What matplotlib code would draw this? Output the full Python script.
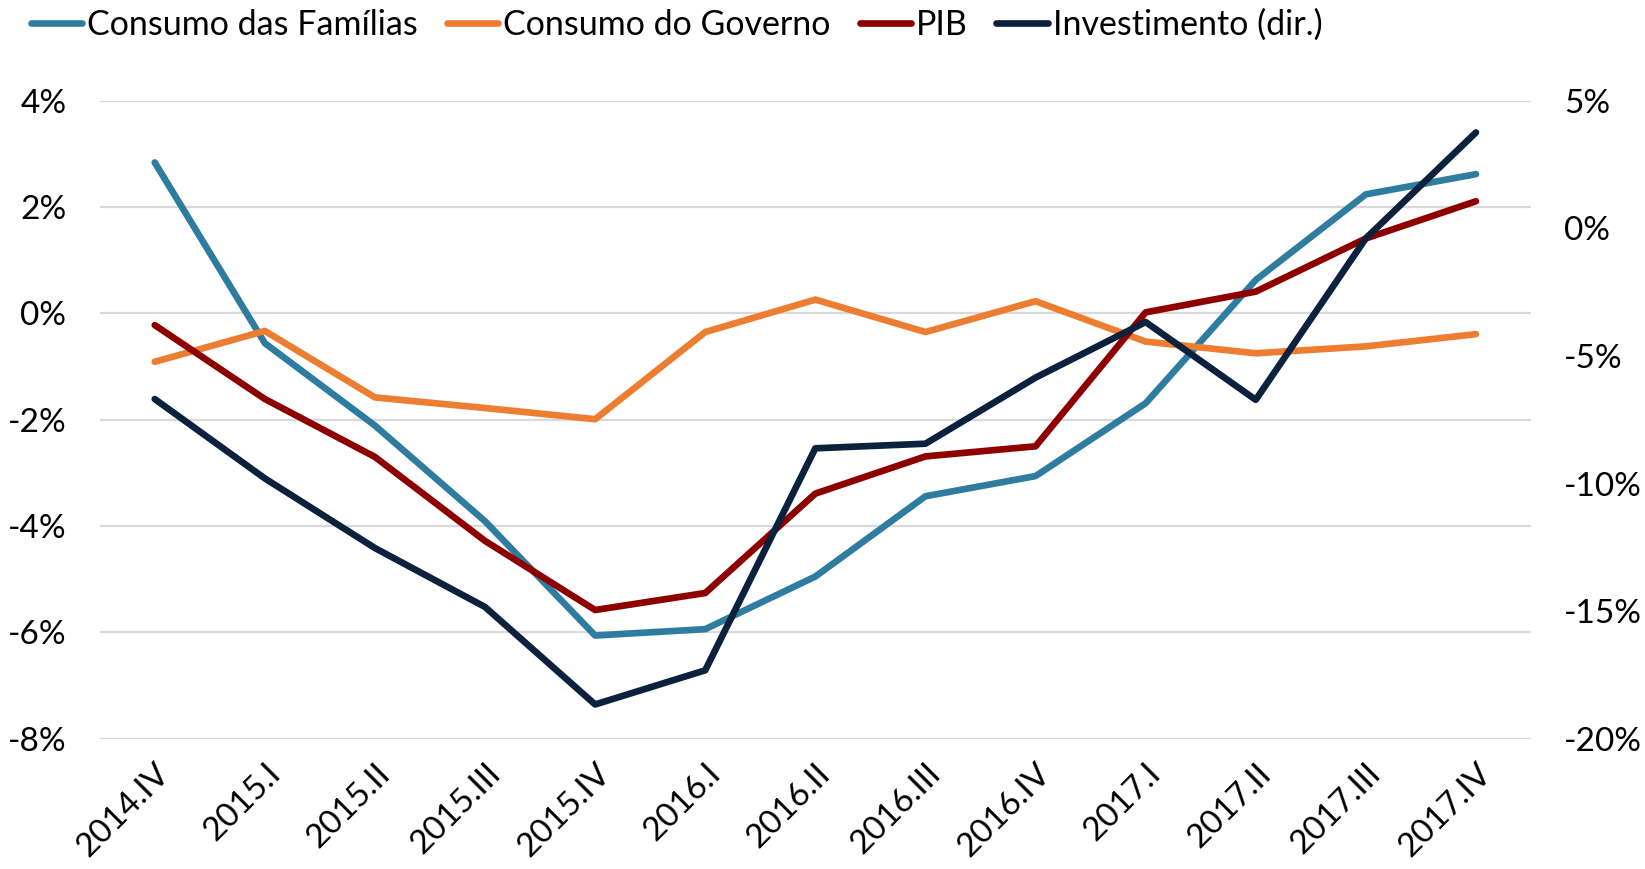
import numpy as np
import matplotlib
matplotlib.use("Agg")
import matplotlib.pyplot as plt
import matplotlib.transforms as mtransforms
from matplotlib.ticker import FuncFormatter

plt.rcParams['font.family'] = ['Lato', 'DejaVu Sans']

trimestres = ['2014.IV', '2015.I', '2015.II', '2015.III', '2015.IV', '2016.I',
              '2016.II', '2016.III', '2016.IV', '2017.I', '2017.II', '2017.III',
              '2017.IV']

# variação interanual (%)
familias = [2.84, -0.56, -2.11, -3.91, -6.06, -5.94, -4.95, -3.44, -3.06,
            -1.69, 0.63, 2.24, 2.62]
governo = [-0.91, -0.33, -1.58, -1.78, -1.99, -0.35, 0.26, -0.35, 0.23,
           -0.53, -0.75, -0.62, -0.39]
pib = [-0.22, -1.61, -2.70, -4.28, -5.58, -5.26, -3.39, -2.69, -2.50,
       0.02, 0.41, 1.41, 2.11]
# eixo direito
investimento = [-6.69, -9.80, -12.53, -14.84, -18.66, -17.32, -8.62, -8.44,
                -5.85, -3.67, -6.72, -0.39, 3.76]

cores = {'fam': '#2E7DA1', 'gov': '#ED7D31', 'pib': '#8E0000', 'inv': '#0C213D'}
lw = 4.8

fig = plt.figure(figsize=(16.45, 8.69), dpi=100)
ax = fig.add_axes([0.0606, 0.150, 0.8701, 0.734])
ax2 = ax.twinx()

x = np.arange(len(trimestres))
l1, = ax.plot(x, familias, color=cores['fam'], lw=lw, solid_capstyle='round',
              label='Consumo das Famílias', zorder=3)
l2, = ax.plot(x, governo, color=cores['gov'], lw=lw, solid_capstyle='round',
              label='Consumo do Governo', zorder=4)
l3, = ax.plot(x, pib, color=cores['pib'], lw=lw, solid_capstyle='round',
              label='PIB', zorder=5)
l4, = ax2.plot(x, investimento, color=cores['inv'], lw=lw, solid_capstyle='round',
               label='Investimento (dir.)', zorder=6)

ax.set_xlim(-0.5, len(trimestres) - 0.5)
ax.set_ylim(-8, 4)
ax.set_yticks(np.arange(-8, 5, 2))
ax2.set_ylim(-20, 5)
ax2.set_yticks(np.arange(-20, 6, 5))

pct = FuncFormatter(lambda v, p: f'{v:.0f}%')
ax.yaxis.set_major_formatter(pct)
ax2.yaxis.set_major_formatter(pct)

ax.grid(axis='y', color='#D9D9D9', lw=1.6, zorder=0)
ax.set_axisbelow(True)
for a in (ax, ax2):
    for s in a.spines.values():
        s.set_visible(False)
    a.tick_params(length=0, labelsize=24, colors='black')

ax.tick_params(axis='y', pad=24)
ax2.tick_params(axis='y', pad=24)
for t in ax2.get_yticklabels():
    t.set_horizontalalignment('left')

ax.set_xticks(x)
ax.set_xticklabels(trimestres, rotation=45, ha='right', rotation_mode='anchor',
                   fontsize=24)
ax.tick_params(axis='x', pad=14)
offset = mtransforms.ScaledTranslation(0, 0, fig.dpi_scale_trans)
for t in ax.get_xticklabels():
    t.set_transform(t.get_transform() + offset)

fig.legend(handles=[l1, l2, l3, l4], loc='center left',
           bbox_to_anchor=(0.019, 0.971), ncol=4, frameon=False, fontsize=24.5,
           handlelength=1.5, handletextpad=0.15, columnspacing=0.85,
           borderaxespad=0, borderpad=0)

fig.savefig('out.png', dpi=100)
